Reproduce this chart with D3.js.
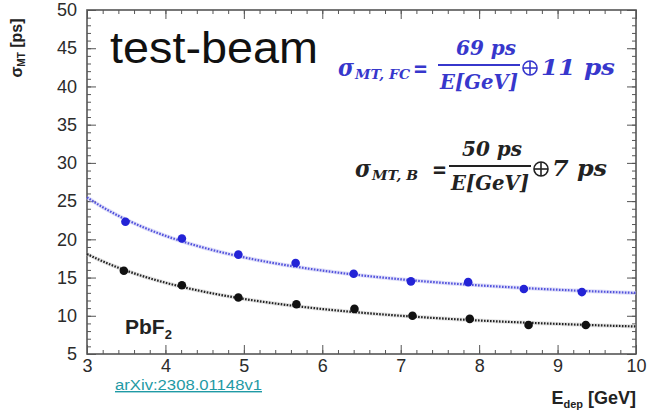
<!DOCTYPE html>
<html>
<head>
<meta charset="utf-8">
<script src="https://cdn.jsdelivr.net/npm/d3@7"></script>
<style>
  html, body { margin: 0; padding: 0; background: #fff; }
  svg { display: block; }
  .tick text { font-family: "Liberation Sans", Arial, sans-serif; fill: #2b2b2b; }
</style>
</head>
<body>
<svg id="chart" width="650" height="415"></svg>
<script>
// Timing resolution of the PbF2 module vs deposited energy
const energyFC = [3.49, 4.21, 4.93, 5.66, 6.40, 7.13, 7.86, 8.57, 9.31];
const sigmaFC  = [22.3, 20.1, 18.0, 16.9, 15.5, 14.5, 14.4, 13.5, 13.1];
const energyB  = [3.47, 4.21, 4.93, 5.67, 6.41, 7.15, 7.88, 8.63, 9.36];
const sigmaB   = [15.9, 14.0, 12.4, 11.5, 10.9, 10.0, 9.6, 8.8, 8.8];

// Fit parameters: sigma = a/E (+) c, quoted in the formulas
const fitStochastic = [69, 50];   // ps
const fitConstant   = [11, 7];    // ps

const xTicks = [3, 4, 5, 6, 7, 8, 9, 10];
const yTicks = [5, 10, 15, 20, 25, 30, 35, 40, 45, 50];

const svg = d3.select("#chart");
const L = 87, R = 636, T = 10, B = 354;

const x = d3.scaleLinear().domain([3, 10]).range([L, R]);
const y = d3.scaleLinear().domain([5, 50]).range([B, T]);

const axisColor = "#555";

// Axes: major + minor ticks on all four sides, pointing inward
function styleAxis(g) {
  g.select(".domain").remove();
  g.selectAll(".tick line").attr("stroke", axisColor).attr("stroke-width", 1);
}
const xMinor = d3.range(3, 10.001, 0.2);
const yMinor = d3.range(5, 50.001, 1);

svg.append("g").attr("transform", `translate(0,${B})`)
  .call(d3.axisBottom(x).tickValues(xMinor).tickSize(-4).tickFormat(""))
  .call(styleAxis);
svg.append("g").attr("transform", `translate(0,${B})`)
  .call(d3.axisBottom(x).tickValues(xTicks).tickSizeInner(-9).tickSizeOuter(0).tickPadding(5).tickFormat(d3.format("d")))
  .call(styleAxis)
  .call(g => g.selectAll("text").attr("font-size", 18));
svg.append("g").attr("transform", `translate(0,${T})`)
  .call(d3.axisTop(x).tickValues(xMinor).tickSize(-4).tickFormat(""))
  .call(styleAxis);
svg.append("g").attr("transform", `translate(0,${T})`)
  .call(d3.axisTop(x).tickValues(xTicks).tickSize(-9).tickFormat(""))
  .call(styleAxis);

svg.append("g").attr("transform", `translate(${L},0)`)
  .call(d3.axisLeft(y).tickValues(yMinor).tickSize(-4).tickFormat(""))
  .call(styleAxis);
svg.append("g").attr("transform", `translate(${L},0)`)
  .call(d3.axisLeft(y).tickValues(yTicks).tickSizeInner(-9).tickSizeOuter(0).tickPadding(10).tickFormat(d3.format("d")))
  .call(styleAxis)
  .call(g => g.selectAll("text").attr("font-size", 18));
svg.append("g").attr("transform", `translate(${R},0)`)
  .call(d3.axisRight(y).tickValues(yMinor).tickSize(-4).tickFormat(""))
  .call(styleAxis);
svg.append("g").attr("transform", `translate(${R},0)`)
  .call(d3.axisRight(y).tickValues(yTicks).tickSize(-9).tickFormat(""))
  .call(styleAxis);

// Frame
svg.append("rect")
  .attr("x", L).attr("y", T).attr("width", R - L).attr("height", B - T)
  .attr("fill", "none").attr("stroke", axisColor).attr("stroke-width", 1.6);

// Fit curves
const eGrid = d3.range(3, 10.0001, 0.05);
const fitLine = (a, c) => d3.line()
  .x(e => x(e))
  .y(e => y(Math.hypot(a / e, c)));

const curves = [
  { a: fitStochastic[0], c: fitConstant[0], color: "#5252dc", halo: "#c4c4f4" },
  { a: fitStochastic[1], c: fitConstant[1], color: "#222222", halo: "#cfcfcf" }
];
curves.forEach(cv => {
  svg.append("path").datum(eGrid).attr("d", fitLine(cv.a, cv.c))
    .attr("fill", "none").attr("stroke", cv.halo).attr("stroke-width", 4).attr("opacity", 0.55);
  svg.append("path").datum(eGrid).attr("d", fitLine(cv.a, cv.c))
    .attr("fill", "none").attr("stroke", cv.color).attr("stroke-width", 2.2)
    .attr("stroke-dasharray", "1.6,1.4");
});

// Measured points
const series = [
  { e: energyFC, s: sigmaFC, color: "#2323d6" },
  { e: energyB,  s: sigmaB,  color: "#111111" }
];
series.forEach(sr => {
  svg.append("g").selectAll("circle")
    .data(sr.e.map((e, i) => [e, sr.s[i]]))
    .join("circle")
    .attr("cx", d => x(d[0])).attr("cy", d => y(d[1]))
    .attr("r", 4.3).attr("fill", sr.color);
});

// Axis titles
const sans = "'Liberation Sans', Arial, sans-serif";
const yTitle = svg.append("text")
  .attr("transform", "translate(22,48) rotate(-90)")
  .attr("text-anchor", "middle")
  .attr("font-family", sans).attr("font-weight", "bold").attr("font-size", 16).attr("fill", "#222");
yTitle.append("tspan").text("σ");
yTitle.append("tspan").attr("font-size", 10).attr("dy", 3).text("MT");
yTitle.append("tspan").attr("dy", -3).text(" [ps]");

const xTitle = svg.append("text")
  .attr("x", 636).attr("y", 404)
  .attr("text-anchor", "end")
  .attr("font-family", sans).attr("font-weight", "bold").attr("font-size", 18).attr("fill", "#222");
xTitle.append("tspan").text("E");
xTitle.append("tspan").attr("font-size", 11).attr("dy", 4).text("dep");
xTitle.append("tspan").attr("dy", -4).text(" [GeV]");

// Source reference
svg.append("text")
  .attr("x", 115).attr("y", 390)
  .attr("font-family", sans).attr("font-size", 14)
  .attr("fill", "#1f9aa5").attr("text-decoration", "underline")
  .attr("textLength", 147).attr("lengthAdjust", "spacingAndGlyphs")
  .text("arXiv:2308.01148v1");

// Crystal label
const pb = svg.append("text")
  .attr("x", 125).attr("y", 334)
  .attr("font-family", sans).attr("font-weight", "bold").attr("font-size", 21).attr("fill", "#222");
pb.append("tspan").text("PbF");
pb.append("tspan").attr("font-size", 13).attr("dy", 5).text("2");

// Big annotation
svg.append("text")
  .attr("x", 110).attr("y", 63)
  .attr("font-family", sans).attr("font-size", 44).attr("fill", "#111")
  .attr("textLength", 208).attr("lengthAdjust", "spacingAndGlyphs")
  .text("test-beam");

// Resolution formulas
const serif = "'DejaVu Serif', 'Liberation Serif', serif";
function piece(txt, px, py, size, len, color, italic = true) {
  const t = svg.append("text")
    .attr("x", px).attr("y", py)
    .attr("font-family", serif).attr("font-weight", "bold")
    .attr("font-style", italic ? "italic" : "normal")
    .attr("font-size", size).attr("fill", color).text(txt);
  if (len) t.attr("textLength", len).attr("lengthAdjust", "spacingAndGlyphs");
  return t;
}
function oplus(cx, cy, r, color) {
  const g = svg.append("g").attr("stroke", color).attr("stroke-width", 1.6).attr("fill", "none");
  g.append("circle").attr("cx", cx).attr("cy", cy).attr("r", r);
  g.append("line").attr("x1", cx - r).attr("x2", cx + r).attr("y1", cy).attr("y2", cy);
  g.append("line").attr("x1", cx).attr("x2", cx).attr("y1", cy - r).attr("y2", cy + r);
}
function formula(f) {
  const c = f.color;
  piece("σ", f.x0, f.base, 24, 16, c);
  piece(f.sub, f.x0 + 17, f.base + 3, 13, f.subLen, c);
  piece("=", f.eqX, f.base, 22, 15, c, false);
  piece(`${f.a} ps`, f.numX, f.base - 21, 20, 60, c);
  svg.append("line")
    .attr("x1", f.barX).attr("x2", f.barX + 82)
    .attr("y1", f.base - 11).attr("y2", f.base - 11)
    .attr("stroke", c).attr("stroke-width", 2);
  piece("E[GeV]", f.barX + 2, f.base + 13, 21, 78, c);
  oplus(f.barX + 92, f.base - 8, 7, c);
  piece(`${f.c} ps`, f.barX + 103, f.base - 1, 22, f.cLen, c);
}
formula({ color: "#3737cc", x0: 338, base: 76, sub: "MT, FC", subLen: 55,
          eqX: 413, numX: 456, barX: 438, a: fitStochastic[0], c: fitConstant[0], cLen: 74 });
formula({ color: "#222222", x0: 355, base: 177, sub: "MT, B", subLen: 46,
          eqX: 432, numX: 462, barX: 449, a: fitStochastic[1], c: fitConstant[1], cLen: 55 });
</script>
</body>
</html>
